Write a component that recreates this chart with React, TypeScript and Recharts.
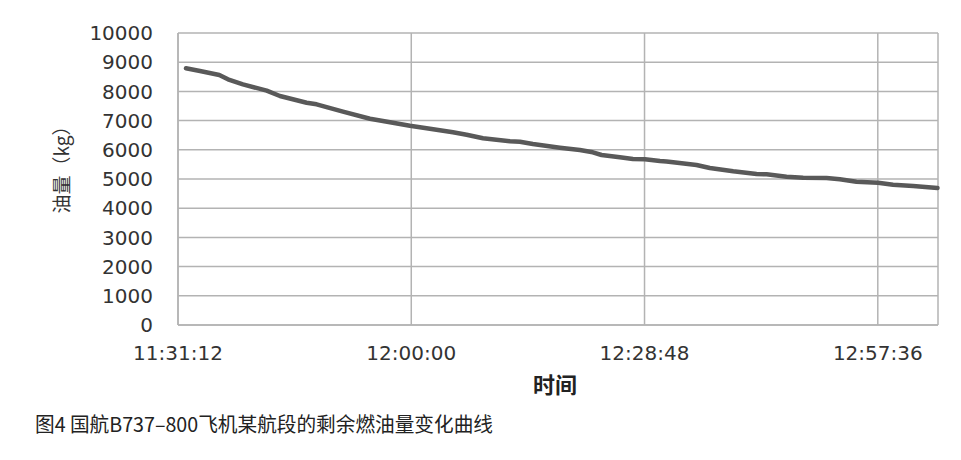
import React from 'react';
import { LineChart, Line, XAxis, YAxis, CartesianGrid } from 'recharts';

// Sample clock times (HH:MM:SS) and remaining fuel (kg)
const times: string[] = [
  '11:32:11', '11:33:55', '11:36:18', '11:37:22', '11:39:13', '11:42:09', '11:43:47',
  '11:47:05', '11:48:19', '11:51:34', '11:54:54', '11:56:30', '11:59:50', '12:02:18',
  '12:05:09', '12:06:50', '12:08:51', '12:12:11', '12:13:25', '12:15:01', '12:18:21',
  '12:20:49', '12:22:25', '12:23:30', '12:25:45', '12:27:22', '12:28:51', '12:30:42',
  '12:31:31', '12:32:20', '12:35:13', '12:36:52', '12:39:45', '12:42:38', '12:43:52',
  '12:46:20', '12:48:23', '12:51:16', '12:52:55', '12:54:58', '12:57:38', '12:59:29',
  '13:01:58', '13:04:58',
];
const fuel: number[] = [
  8790, 8699, 8562, 8414, 8243, 8024, 7842,
  7613, 7558, 7305, 7065, 6986, 6825, 6723,
  6599, 6517, 6394, 6291, 6277, 6199, 6072,
  5993, 5914, 5822, 5743, 5685, 5675, 5616,
  5600, 5572, 5479, 5377, 5264, 5171, 5161,
  5079, 5045, 5034, 4990, 4908, 4873, 4805,
  4760, 4692,
];
const xTickLabels: string[] = ['11:31:12', '12:00:00', '12:28:48', '12:57:36'];
const xDomainEnd = '13:05:02';
const yTicks: number[] = [0, 1000, 2000, 3000, 4000, 5000, 6000, 7000, 8000, 9000, 10000];

const toSec = (s: string) => {
  const [h, m, sec] = s.split(':').map(Number);
  return h * 3600 + m * 60 + sec;
};
const fmt = (v: number) => {
  const h = Math.floor(v / 3600);
  const m = Math.floor((v % 3600) / 60);
  const s = Math.round(v % 60);
  const p = (n: number) => String(n).padStart(2, '0');
  return `${p(h)}:${p(m)}:${p(s)}`;
};

const data = times.map((t, i) => ({ t: toSec(t), fuel: fuel[i] }));
const xTicks = xTickLabels.map(toSec);

export default function App() {
  return (
    <div style={{ position: 'absolute', left: 0, top: 0, width: 961, height: 460, background: '#fff' }}>
      <LineChart width={961} height={460} data={data} margin={{ top: 33, right: 23, bottom: 35, left: 0 }}>
        <CartesianGrid stroke="#b3b3b3" strokeWidth={1.5} />
        <XAxis
          dataKey="t"
          type="number"
          domain={[xTicks[0], toSec(xDomainEnd)]}
          ticks={xTicks}
          tickFormatter={fmt}
          height={100}
          tickLine={false}
          tickSize={0}
          tickMargin={21}
          axisLine={{ stroke: '#b3b3b3', strokeWidth: 1.5 }}
          tick={{ fill: '#333', fontSize: 20, fontFamily: 'DejaVu Sans' }}
          label={{
            content: (props: any) => {
              const vb = props.viewBox || {};
              return (
                <text x={vb.x + vb.width / 2 - 3} y={vb.y + 58} textAnchor="middle" dominantBaseline="central"
                  fontFamily="Noto Sans CJK SC" fontWeight="bold" fontSize={22} fill="#222">时间</text>
              );
            },
          }}
        />
        <YAxis
          type="number"
          domain={[0, 10000]}
          ticks={yTicks}
          width={178}
          tickLine={false}
          tickSize={0}
          tickMargin={25}
          axisLine={{ stroke: '#b3b3b3', strokeWidth: 1.5 }}
          tick={{ fill: '#333', fontSize: 20, fontFamily: 'DejaVu Sans' }}
          label={{
            content: (props: any) => {
              const vb = props.viewBox || {};
              const cx = vb.x + 60;
              const cy = vb.y + 132;
              return (
                <text x={cx} y={cy} transform={`rotate(-90 ${cx} ${cy})`} textAnchor="middle" dominantBaseline="central"
                  fontFamily="Noto Sans CJK SC" fontSize={19} fill="#333">油量（kg）</text>
              );
            },
          }}
        />
        <Line type="linear" dataKey="fuel" stroke="#595959" strokeWidth={4.5} dot={false} strokeLinejoin="round" strokeLinecap="round" isAnimationActive={false} />
      </LineChart>
      <svg width={961} height={460} style={{ position: 'absolute', left: 0, top: 0, pointerEvents: 'none' }}>
        <text x={35} y={423} dominantBaseline="central" fontFamily="Noto Sans CJK SC" fontSize={20} fill="#222"
          textLength={458} lengthAdjust="spacingAndGlyphs">图4  国航B737–800飞机某航段的剩余燃油量变化曲线</text>
      </svg>
    </div>
  );
}
